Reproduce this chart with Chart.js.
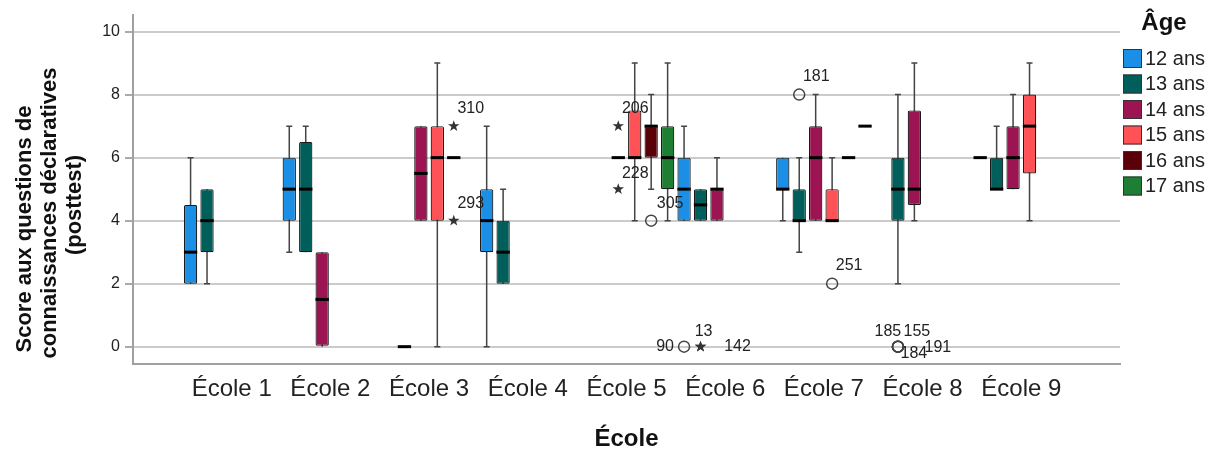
<!DOCTYPE html>
<html lang="fr">
<head>
<meta charset="utf-8">
<title>Score par école et âge</title>
<script src="https://cdn.jsdelivr.net/npm/chart.js@4.4.0/dist/chart.umd.min.js"></script>
<style>
  html, body { margin: 0; padding: 0; background: #fff; }
  #wrap { width: 1225px; height: 466px; }
</style>
</head>
<body>
<div id="wrap"><canvas id="boxChart" width="1225" height="466"></canvas></div>
<script>
// ---- data ------------------------------------------------------------
const schools = ['École 1', 'École 2', 'École 3', 'École 4', 'École 5', 'École 6', 'École 7', 'École 8', 'École 9'];
const ages = ['12 ans', '13 ans', '14 ans', '15 ans', '16 ans', '17 ans'];
const yTicks = [0, 2, 4, 6, 8, 10];

// five-number summaries, [age][school], null = no pupils of that age
const whiskerLow = [
    [2, 3, null, 0, null, 4, 4, null, 6],
    [2, 3, 0, 2, null, 4, 3, 2, 5],
    [null, 0, 4, null, 6, 4, 4, 4, 5],
    [null, null, 0, null, 4, null, 4, null, 4],
    [null, null, 6, null, 5, null, 6, null, null],
    [null, null, null, null, 4, null, 7, null, null]
];
const quart1 = [
    [2, 4, null, 3, null, 4, 5, null, 6],
    [3, 3, 0, 2, null, 4, 4, 4, 5],
    [null, 0, 4, null, 6, 4, 4, 4.5, 5],
    [null, null, 4, null, 6, null, 4, null, 5.5],
    [null, null, 6, null, 6, null, 6, null, null],
    [null, null, null, null, 5, null, 7, null, null]
];
const median = [
    [3, 5, null, 4, null, 5, 5, null, 6],
    [4, 5, 0, 3, null, 4.5, 4, 5, 5],
    [null, 1.5, 5.5, null, 6, 5, 6, 5, 6],
    [null, null, 6, null, 6, null, 4, null, 7],
    [null, null, 6, null, 7, null, 6, null, null],
    [null, null, null, null, 6, null, 7, null, null]
];
const quart3 = [
    [4.5, 6, null, 5, null, 6, 6, null, 6],
    [5, 6.5, 0, 4, null, 5, 5, 6, 6],
    [null, 3, 7, null, 6, 5, 7, 7.5, 7],
    [null, null, 7, null, 7.5, null, 5, null, 8],
    [null, null, 6, null, 7, null, 6, null, null],
    [null, null, null, null, 7, null, 7, null, null]
];
const whiskerHigh = [
    [6, 7, null, 7, null, 7, 6, null, 6],
    [5, 7, 0, 5, null, 5, 6, 8, 7],
    [null, 3, 7, null, 6, 6, 8, 9, 8],
    [null, null, 9, null, 9, null, 6, null, 9],
    [null, null, 6, null, 8, null, 6, null, null],
    [null, null, null, null, 9, null, 7, null, null]
];

// outliers ('o') and extremes ('*'), with their case numbers
const outlierSchool = [2, 2, 4, 4, 4, 5, 5, 5, 6, 6, 7, 7, 7, 7];
const outlierAge    = [4, 4, 2, 2, 4, 0, 1, 1, 1, 3, 1, 1, 1, 1];
const outlierValue  = [7, 4, 7, 5, 4, 0, 0, 0, 8, 2, 0, 0, 0, 0];
const outlierKind   = ['*', '*', '*', '*', 'o', 'o', '*', '*', 'o', 'o', 'o', 'o', 'o', 'o'];
const outlierCase   = ['310', '293', '206', '228', '305', '90', '13', '142', '181', '251', '185', '155', '184', '191'];

// ---- style -----------------------------------------------------------
const ageColors = ['#1B8FE5', '#005F5A', '#9C1552', '#FF5257', '#5A0009', '#1E7E34'];
// where each case number sits relative to its marker (px)
const caseLabelOffset = [[17, -18], [17, -17], [17, -18], [17, -16], [19, -17], [-19, 0], [3, -15],
                         [37, 0], [17, -18], [17, -18], [-10, -15], [19, -15], [16, 7], [40, 1]];
const yTitleLines = ['Score aux questions de', 'connaissances déclaratives', '(posttest)'];
const yTitleCentres = [229, 213, 205];
const FONT = '"Liberation Sans", Arial, sans-serif';

Chart.defaults.font.family = FONT;
Chart.defaults.color = '#222';

// category axis gets an empty slot at each end, like the SPSS layout
const padded = arr => [null, ...arr, null];
const xLabels = ['', ...schools, ''];

const datasets = ages.map((age, a) => ({
    label: age,
    data: padded(quart1[a].map((q, s) => q == null ? null : [q, quart3[a][s]])),
    backgroundColor: ageColors[a],
    borderColor: '#1a1a1a',
    borderWidth: 1.2,
    borderSkipped: false,
    borderRadius: 1.5,
    barPercentage: 0.81,
    categoryPercentage: 1.0
}));

function barOf(chart, a, s) {
    return chart.getDatasetMeta(a).data[s + 1];
}

const boxParts = {
    id: 'boxParts',
    beforeDatasetsDraw(chart) {
        const {ctx} = chart;
        const y = chart.scales.y;
        ctx.save();
        ctx.strokeStyle = '#444';
        ctx.lineWidth = 1.5;
        ages.forEach((age, a) => {
            schools.forEach((sc, s) => {
                if (median[a][s] == null) return;
                const bar = barOf(chart, a, s);
                const lo = y.getPixelForValue(whiskerLow[a][s]);
                const hi = y.getPixelForValue(whiskerHigh[a][s]);
                ctx.beginPath();
                ctx.moveTo(bar.x, lo);
                ctx.lineTo(bar.x, hi);
                if (whiskerLow[a][s] < quart1[a][s]) {
                    ctx.moveTo(bar.x - 3, lo);
                    ctx.lineTo(bar.x + 3, lo);
                }
                if (whiskerHigh[a][s] > quart3[a][s]) {
                    ctx.moveTo(bar.x - 3, hi);
                    ctx.lineTo(bar.x + 3, hi);
                }
                ctx.stroke();
            });
        });
        ctx.restore();
    },
    afterDatasetsDraw(chart) {
        const {ctx} = chart;
        const y = chart.scales.y;
        ctx.save();
        // medians
        ctx.strokeStyle = '#000';
        ctx.lineWidth = 3;
        ages.forEach((age, a) => {
            schools.forEach((sc, s) => {
                if (median[a][s] == null) return;
                const bar = barOf(chart, a, s);
                const my = y.getPixelForValue(median[a][s]);
                ctx.beginPath();
                ctx.moveTo(bar.x - bar.width / 2, my);
                ctx.lineTo(bar.x + bar.width / 2, my);
                ctx.stroke();
            });
        });
        // outliers and their case numbers
        ctx.font = '16px ' + FONT;
        ctx.textAlign = 'center';
        ctx.textBaseline = 'middle';
        outlierValue.forEach((v, i) => {
            const bar = barOf(chart, outlierAge[i], outlierSchool[i]);
            const px = bar.x;
            const py = y.getPixelForValue(v);
            if (outlierKind[i] === 'o') {
                ctx.strokeStyle = '#444';
                ctx.lineWidth = 1.5;
                ctx.beginPath();
                ctx.arc(px, py, 5.5, 0, Math.PI * 2);
                ctx.stroke();
            } else {
                ctx.fillStyle = '#333';
                ctx.beginPath();
                for (let k = 0; k < 10; k++) {
                    const r = k % 2 === 0 ? 6 : 2.4;
                    const ang = -Math.PI / 2 + k * Math.PI / 5;
                    const sx = px + r * Math.cos(ang), sy = py + r * Math.sin(ang);
                    if (k === 0) ctx.moveTo(sx, sy); else ctx.lineTo(sx, sy);
                }
                ctx.closePath();
                ctx.fill();
            }
            ctx.fillStyle = '#222';
            ctx.fillText(outlierCase[i], px + caseLabelOffset[i][0], py + caseLabelOffset[i][1]);
        });
        ctx.restore();
    },
    afterDraw(chart) {
        const {ctx, chartArea} = chart;
        // y axis title, three lines
        ctx.save();
        ctx.fillStyle = '#111';
        ctx.font = 'bold 22px ' + FONT;
        ctx.textAlign = 'center';
        ctx.textBaseline = 'middle';
        yTitleLines.forEach((line, k) => {
            ctx.save();
            ctx.translate(25 + k * 25, yTitleCentres[k]);
            ctx.rotate(-Math.PI / 2);
            ctx.fillText(line, 0, 0);
            ctx.restore();
        });
        ctx.restore();

        // legend
        ctx.save();
        const x0 = chartArea.right + 3;
        ctx.fillStyle = '#111';
        ctx.font = 'bold 24px ' + FONT;
        ctx.textAlign = 'center';
        ctx.textBaseline = 'middle';
        ctx.fillText('Âge', x0 + 41, 23);
        ctx.font = '20px ' + FONT;
        ctx.textAlign = 'left';
        chart.data.datasets.forEach((ds, k) => {
            const top = 49 + k * 25.5;
            ctx.fillStyle = ds.backgroundColor;
            ctx.fillRect(x0, top, 19, 19);
            ctx.strokeStyle = '#333';
            ctx.lineWidth = 1;
            ctx.strokeRect(x0 + 0.5, top + 0.5, 18, 18);
            ctx.fillStyle = '#222';
            ctx.fillText(ds.label, x0 + 22, top + 10);
        });
        ctx.restore();
    }
};

new Chart(document.getElementById('boxChart'), {
    type: 'bar',
    data: {labels: xLabels, datasets: datasets},
    plugins: [boxParts],
    options: {
        responsive: false,
        animation: false,
        devicePixelRatio: 1,
        layout: {padding: {left: 0, right: 105, top: 14, bottom: 0}},
        plugins: {
            legend: {display: false},
            tooltip: {enabled: false}
        },
        scales: {
            x: {
                type: 'category',
                offset: false,
                grid: {display: false, drawTicks: false},
                border: {display: true, color: '#a0a0a0', width: 2},
                ticks: {font: {size: 24}, color: '#222', padding: 11, autoSkip: false, maxRotation: 0},
                title: {display: true, text: 'École', font: {size: 24, weight: 'bold'}, color: '#111', padding: {top: 0, bottom: 12}},
                afterFit: s => { s.height = 102; }
            },
            y: {
                min: -0.55,
                max: 10.54,
                grid: {color: '#cbcbcb', lineWidth: 2, tickLength: 8, tickColor: '#aaa'},
                border: {display: true, color: '#a0a0a0', width: 2},
                ticks: {font: {size: 16}, color: '#222', padding: 5},
                afterBuildTicks: s => { s.ticks = yTicks.map(v => ({value: v})); },
                afterFit: s => { s.width = 133; }
            }
        }
    }
});
</script>
</body>
</html>
